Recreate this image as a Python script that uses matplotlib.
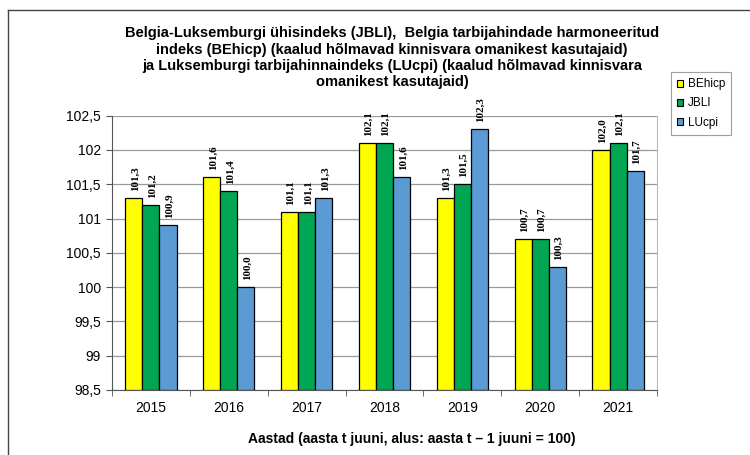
import numpy as np
import matplotlib
matplotlib.use("Agg")
import matplotlib.pyplot as plt
from matplotlib.lines import Line2D

aastad = ["2015", "2016", "2017", "2018", "2019", "2020", "2021"]
behicp = [101.3, 101.6, 101.1, 102.1, 101.3, 100.7, 102.0]
jbli = [101.2, 101.4, 101.1, 102.1, 101.5, 100.7, 102.1]
lucpi = [100.9, 100.0, 101.3, 101.6, 102.3, 100.3, 101.7]
seeriad = ["BEhicp", "JBLI", "LUcpi"]
varvid = ["#FFFF00", "#00A651", "#5B9BD5"]
y_ticks = [98.5, 99, 99.5, 100, 100.5, 101, 101.5, 102, 102.5]
y_tick_labels = ["98,5", "99", "99,5", "100", "100,5", "101", "101,5", "102", "102,5"]

plt.rcParams["font.family"] = ["Liberation Sans", "DejaVu Sans"]

fig = plt.figure(figsize=(7.5, 4.55), dpi=100)
ax = fig.add_axes([0.1493, 0.1429, 0.7267, 0.6028])

x = np.arange(len(aastad))
w = 0.22
for i, (vals, c, nimi) in enumerate(zip([behicp, jbli, lucpi], varvid, seeriad)):
    pos = x + (i - 1) * w
    ax.bar(pos, np.array(vals) - 98.5, bottom=98.5, width=w, color=c,
           edgecolor="black", linewidth=0.9, label=nimi, zorder=3)
    for px, v in zip(pos, vals):
        ax.annotate(f"{v:.1f}".replace(".", ","), (px, v), xytext=(1, 5),
                    textcoords="offset points", rotation=90,
                    ha="center", va="bottom", fontsize=8, fontweight="bold",
                    family="Liberation Serif", zorder=4)

ax.set_xlim(-0.5, len(aastad) - 0.5)
ax.set_ylim(98.5, 102.5)
ax.set_yticks(y_ticks)
ax.set_yticklabels(y_tick_labels, fontsize=10)
ax.set_xticks(x)
ax.set_xticklabels(aastad, fontsize=10)
ax.set_xticks(np.arange(len(aastad) + 1) - 0.5, minor=True)
ax.tick_params(axis="x", which="major", length=0, pad=8)
ax.tick_params(axis="x", which="minor", length=4, color="#555555")
ax.tick_params(axis="y", length=4, color="#555555", pad=4)
ax.grid(axis="y", color="#999999", linewidth=0.9, zorder=0)
ax.spines["left"].set_color("#555555")
ax.spines["bottom"].set_color("#555555")
ax.spines["right"].set_color("#bbbbbb")
ax.spines["top"].set_visible(False)

ax.set_xlabel("Aastad (aasta t juuni, alus: aasta t \u2013 1 juuni = 100)",
              fontsize=10, fontweight="bold")
ax.xaxis.set_label_coords(0.55, -0.155)

fig.text(0.523, 0.942,
         "Belgia-Luksemburgi ühisindeks (JBLI),  Belgia tarbijahindade harmoneeritud\n"
         "indeks (BEhicp) (kaalud hõlmavad kinnisvara omanikest kasutajaid)\n"
         "ja Luksemburgi tarbijahinnaindeks (LUcpi) (kaalud hõlmavad kinnisvara\n"
         "omanikest kasutajaid)",
         ha="center", va="top", fontsize=10.5, fontweight="bold", linespacing=1.2)

handles = [plt.Rectangle((0, 0), 1, 1, facecolor=c, edgecolor="black", linewidth=0.8)
           for c in varvid]
leg = fig.legend(handles, seeriad, loc="upper left", bbox_to_anchor=(0.894, 0.842),
                 fontsize=8.5, frameon=True, fancybox=False, handlelength=0.55,
                 handleheight=0.55, handletextpad=0.35, labelspacing=0.6,
                 borderpad=0.55, borderaxespad=0)
leg.get_frame().set_edgecolor("#888888")
leg.get_frame().set_linewidth(0.8)

# outer frame of the chart (top and left edges only)
fig.add_artist(Line2D([8 / 750, 1], [1 - 10 / 455, 1 - 10 / 455],
                      transform=fig.transFigure, color="#444444", linewidth=1))
fig.add_artist(Line2D([8 / 750, 8 / 750], [0, 1 - 10 / 455],
                      transform=fig.transFigure, color="#444444", linewidth=1))

fig.savefig("out.png", dpi=100)
